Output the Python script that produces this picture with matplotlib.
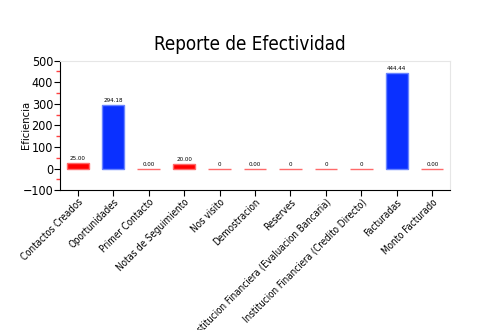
import numpy as np
import matplotlib
matplotlib.use("Agg")
import matplotlib.pyplot as plt
from matplotlib.ticker import MultipleLocator

plt.rcParams['font.family'] = ['DejaVu Sans']
plt.rcParams['font.stretch'] = 'condensed'

categorias = ["Contactos Creados", "Oportunidades", "Primer Contacto",
              "Notas de Seguimiento", "Nos visito", "Demostracion", "Reserves",
              "Institucion Financiera (Evaluacion Bancaria)",
              "Institucion Financiera (Credito Directo)", "Facturadas",
              "Monto Facturado"]
valores = [25.00, 294.18, 0.00, 20.00, 0, 0.00, 0, 0, 0, 444.44, 0.00]
etiquetas = ["25.00", "294.18", "0.00", "20.00", "0", "0.00", "0", "0", "0",
             "444.44", "0.00"]

fig = plt.figure(figsize=(5, 3.3), dpi=100)
ax = fig.add_axes([0.12, 0.424, 0.78, 0.392])

x = np.arange(len(categorias))
# azul para los valores altos, rojo para los bajos
colores = ['#0a30ff' if v >= 100 else '#ff0000' for v in valores]
bordes = ['#6a85ff' if v >= 100 else '#ff6a6a' for v in valores]
ax.bar(x, valores, width=0.63, color=colores, edgecolor=bordes, linewidth=1)

for xi, v, t in zip(x, valores, etiquetas):
    ax.text(xi, v + 8, t, ha='center', va='bottom', fontsize=4.5)

ax.set_xlim(-0.5, len(categorias) - 0.5)
ax.set_ylim(-100, 500)
ax.yaxis.set_major_locator(MultipleLocator(100))
ax.yaxis.set_minor_locator(MultipleLocator(50))
ax.tick_params(axis='y', which='minor', length=3, color='#ff4040', width=1)
ax.tick_params(axis='y', which='major', length=4, labelsize=9, pad=1)
ax.tick_params(axis='x', length=4, labelsize=7, pad=1)
ax.set_xticks(x)
ax.set_xticklabels(categorias, rotation=45, ha='right', rotation_mode='anchor')

for lado in ['top', 'right']:
    ax.spines[lado].set_color('#e6e6e6')
ax.spines['left'].set_color('black')
ax.spines['bottom'].set_color('black')

ax.set_ylabel("Eficiencia", fontsize=8)
ax.yaxis.set_label_coords(-0.075, 0.5)
fig.suptitle("Reporte de Efectividad", fontsize=13.5, y=0.895)

fig.savefig("out.png", dpi=100)
